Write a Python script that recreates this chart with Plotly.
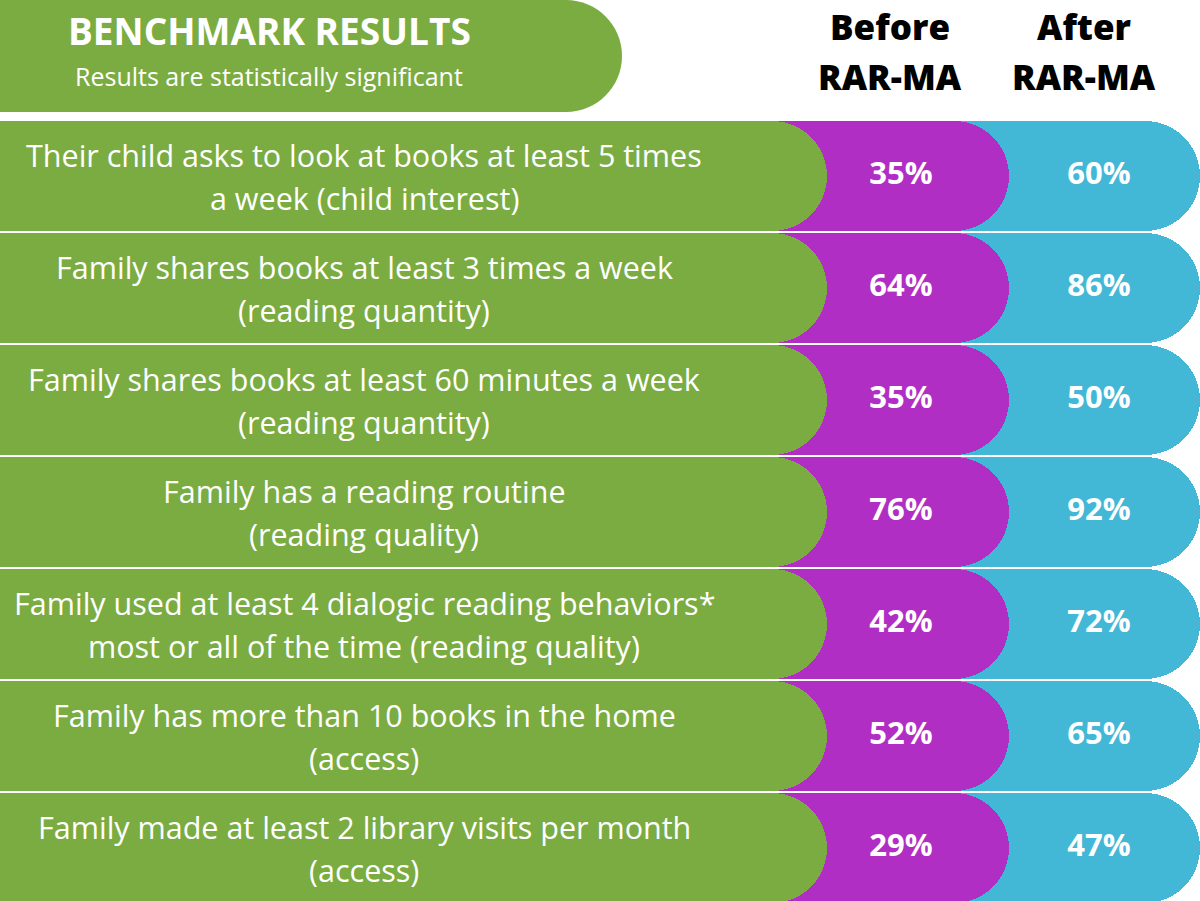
import plotly.graph_objects as go

# ---- data ----
categories = [
    "Their child asks to look at books at least 5 times<br>a week (child interest)",
    "Family shares books at least 3 times a week<br>(reading quantity)",
    "Family shares books at least 60 minutes a week<br>(reading quantity)",
    "Family has a reading routine<br>(reading quality)",
    "Family used at least 4 dialogic reading behaviors*<br>most or all of the time (reading quality)",
    "Family has more than 10 books in the home<br>(access)",
    "Family made at least 2 library visits per month<br>(access)",
]
before_pct = [35, 64, 35, 76, 42, 52, 29]
after_pct = [60, 86, 50, 92, 72, 65, 47]
col_headers = ["Before<br>RAR-MA", "After<br>RAR-MA"]
title_text = "BENCHMARK RESULTS"
subtitle_text = "Results are statistically significant"

# ---- styles / layout constants ----
GREEN = "#7BAC41"
PURPLE = "#B12EC5"
CYAN = "#43B7D6"
FONT = "Open Sans"
W, H = 1200, 901
ROW_PITCH = 112.0
ROW0_CENTER = 176.0
bar_start = -120
green_end, purple_end, cyan_end = 827, 1009, 1200
label_x, before_x, after_x = 364, 901, 1099

n = len(categories)
ids = list(range(n))
bar_w = 110 / ROW_PITCH

fig = go.Figure()
for end, color in [(cyan_end, CYAN), (purple_end, PURPLE), (green_end, GREEN)]:
    fig.add_trace(go.Bar(
        y=ids, x=[end - bar_start] * n, orientation="h", base=bar_start,
        marker=dict(color=color, cornerradius="50%", line=dict(width=0)),
        width=bar_w, hoverinfo="skip", showlegend=False,
    ))

for xpos, vals in [(before_x, before_pct), (after_x, after_pct)]:
    fig.add_trace(go.Scatter(
        x=[xpos] * n, y=ids, mode="text",
        text=[f"{v}%" for v in vals],
        textfont=dict(family=FONT, size=31, color="white", weight=700),
        hoverinfo="skip", showlegend=False,
    ))

annotations = []
for i, lab in enumerate(categories):
    lines = lab.split("<br>")
    for j, ln in enumerate(lines):
        shift = (len(lines) - 1) / 2 * 43 - j * 43
        annotations.append(dict(
            x=label_x, y=i, xref="x", yref="y", text=ln, showarrow=False,
            yshift=shift, xanchor="center", yanchor="middle",
            font=dict(family=FONT, size=30.5, color="white"),
        ))

def py(pix):
    return 1 - pix / H

# header texts
annotations.append(dict(x=269, y=py(31), xref="x", yref="paper", text=title_text,
                        showarrow=False, xanchor="center", yanchor="middle",
                        font=dict(family=FONT, size=37, color="white", weight=700)))
annotations.append(dict(x=269, y=py(76), xref="x", yref="paper", text=subtitle_text,
                        showarrow=False, xanchor="center", yanchor="middle",
                        font=dict(family=FONT, size=25, color="white")))
for hx, hdr in zip([890, 1084], col_headers):
    for j, ln in enumerate(hdr.split("<br>")):
        annotations.append(dict(x=hx, y=py(26 + j * 51), xref="x", yref="paper", text=ln,
                                showarrow=False, xanchor="center", yanchor="middle",
                                font=dict(family=FONT, size=35, color="black", weight=800)))

# header pill (decorative)
r = 56
cx = 622 - r
k = 0.5523 * r
top, mid, bot = py(0), py(56), py(112)
kp = k / H
path = (f"M 0,{top} L {cx},{top} C {cx + k},{top} 622,{mid + kp} 622,{mid} "
        f"C 622,{mid - kp} {cx + k},{bot} {cx},{bot} L 0,{bot} Z")

fig.update_layout(
    width=W, height=H,
    margin=dict(l=0, r=0, t=0, b=0),
    paper_bgcolor="white", plot_bgcolor="white",
    barmode="overlay", bargap=0,
    xaxis=dict(range=[0, W], visible=False, fixedrange=True),
    yaxis=dict(range=[(H - ROW0_CENTER) / ROW_PITCH, -ROW0_CENTER / ROW_PITCH],
               visible=False, fixedrange=True),
    annotations=annotations,
    shapes=[dict(type="path", path=path, xref="x", yref="paper",
                 fillcolor=GREEN, line=dict(width=0), layer="below")],
)

fig.write_html("out.html", config={"displayModeBar": False},
               post_script="document.body.style.margin='0';document.body.style.overflow='hidden';")
